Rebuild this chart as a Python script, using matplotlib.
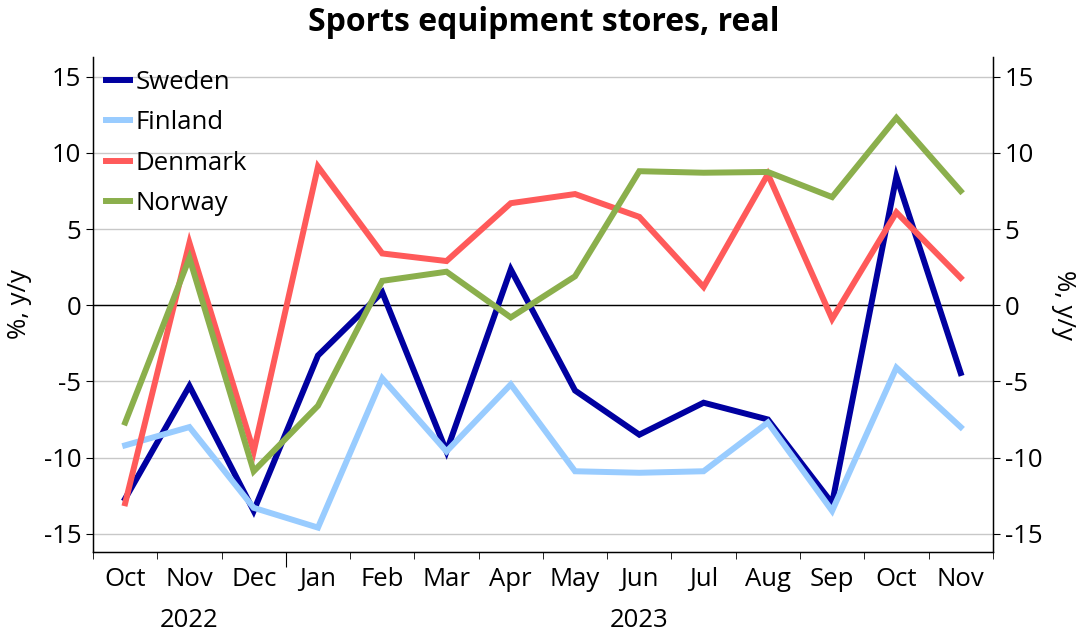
import numpy as np
import matplotlib
matplotlib.use("Agg")
import matplotlib.pyplot as plt

# -------- data --------
months = ['Oct', 'Nov', 'Dec', 'Jan', 'Feb', 'Mar', 'Apr', 'May', 'Jun',
          'Jul', 'Aug', 'Sep', 'Oct', 'Nov']
years = ['2022', '2023']
year_pos = [1, 8]          # centre month index of each year group
year_break = [2.5]         # boundary between Dec and Jan

sweden  = [-12.7, -5.3, -13.5, -3.3, 0.85, -9.6, 2.35, -5.6, -8.5, -6.4, -7.5, -13.0, 8.45, -4.45]
finland = [-9.2, -8.0, -13.3, -14.6, -4.8, -9.6, -5.2, -10.9, -11.0, -10.9, -7.7, -13.5, -4.1, -8.0]
denmark = [-13.0, 4.1, -9.6, 9.1, 3.4, 2.9, 6.7, 7.3, 5.8, 1.2, 8.6, -0.9, 6.1, 1.8]
norway  = [-7.7, 3.1, -10.9, -6.6, 1.6, 2.2, -0.8, 1.9, 8.8, 8.7, 8.75, 7.1, 12.3, 7.5]

series = [('Sweden', sweden, '#0000A0'),
          ('Finland', finland, '#99CCFF'),
          ('Denmark', denmark, '#FF5A5A'),
          ('Norway', norway, '#8BAF4C')]

plt.rcParams['font.family'] = ['Open Sans', 'DejaVu Sans']
plt.rcParams['axes.unicode_minus'] = False
FS = 18.5

fig = plt.figure(figsize=(10.88, 6.33), dpi=100)
ax = fig.add_axes([0.0855, 0.128, 0.827, 0.782])

x = np.arange(len(months))
for name, vals, col in series:
    ax.plot(x, vals, color=col, lw=4.3, label=name, solid_joinstyle='miter')

ax.axhline(0, color='black', lw=1.0, zorder=1)
ax.set_ylim(-16.2, 16.3)
ax.set_xlim(-0.5, len(months) - 0.5)
ax.set_yticks(np.arange(-15, 16, 5))
ax.yaxis.grid(True, color='#C8C8C8', lw=1.0)
ax.set_axisbelow(True)

ax.set_xticks(x)
ax.set_xticklabels(months, fontsize=FS)
ax.set_xticks(np.arange(-0.5, len(months), 1), minor=True)
ax.tick_params(axis='x', which='major', length=0, pad=11)
ax.tick_params(axis='x', which='minor', length=5)
ax.tick_params(axis='y', labelsize=FS, length=5)

ax.spines['top'].set_visible(False)
for s in ['left', 'right', 'bottom']:
    ax.spines[s].set_linewidth(1.0)

# right axis mirror
ax2 = ax.twinx()
ax2.set_ylim(ax.get_ylim())
ax2.set_yticks(np.arange(-15, 16, 5))
ax2.tick_params(axis='y', labelsize=FS, length=5)
ax2.spines['top'].set_visible(False)
ax2.set_ylabel('%, y/y', fontsize=FS, rotation=270, labelpad=24)
ax.set_ylabel('%, y/y', fontsize=FS, labelpad=8)

# longer tick at year boundary
sec = ax.secondary_xaxis('bottom')
sec.set_xticks(year_break)
sec.tick_params(length=11, labelbottom=False)
sec.spines['bottom'].set_visible(False)

# year labels
sec2 = ax.secondary_xaxis('bottom')
sec2.set_xticks(year_pos)
sec2.set_xticklabels(years, fontsize=FS)
sec2.tick_params(length=0, pad=40)
sec2.spines['bottom'].set_visible(False)

ax.legend(loc='upper left', frameon=False, fontsize=FS, handlelength=0.95,
          handletextpad=0.2, labelspacing=0.6, borderaxespad=0.1,
          bbox_to_anchor=(0.0, 1.0))

fig.suptitle('Sports equipment stores, real', fontsize=23, fontweight='bold', y=0.99)

fig.savefig('out.png', dpi=100)
